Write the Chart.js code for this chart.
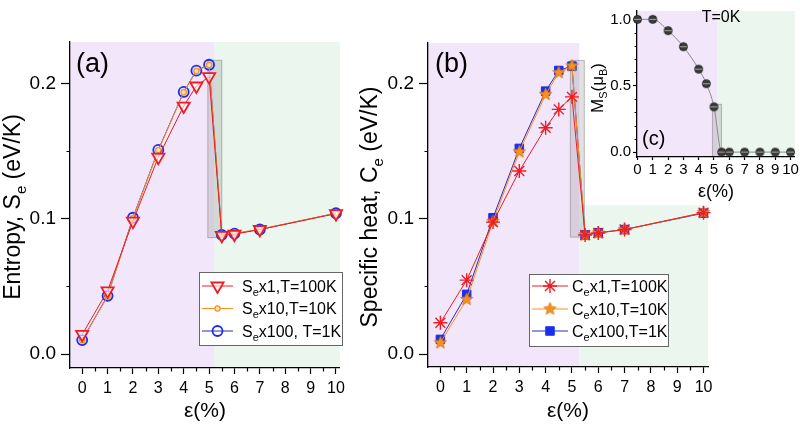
<!DOCTYPE html>
<html>
<head>
<meta charset="utf-8">
<script src="https://cdn.jsdelivr.net/npm/chart.js@4.4.1/dist/chart.umd.min.js"></script>
<style>
	html, body { margin: 0; padding: 0; background: #fff; }
	#wrap { position: relative; width: 800px; height: 428px; overflow: hidden; }
	canvas { position: absolute; top: 0; }
</style>
</head>
<body>
<div id="wrap">
	<canvas id="panelA" width="350" height="428" style="left:0"></canvas>
	<canvas id="panelB" width="450" height="428" style="left:350px"></canvas>
	<canvas id="panelC" width="260" height="205" style="left:540px"></canvas>
</div>
<script>
( function () {
	'use strict';

	// strain values (%) shared by panels (a) and (b)
	var strain = [ 0, 1, 2, 3, 4, 4.5, 5, 5.5, 6, 7, 10 ];

	// (a) entropy, eV/K (scaled)
	var entropy100K = [ 0.0145, 0.0467, 0.0982, 0.1454, 0.1832, 0.1980, 0.2049, 0.0877, 0.0885, 0.0920, 0.1037 ];
	var entropy10K = [ 0.0102, 0.0425, 0.1003, 0.1505, 0.1934, 0.2091, 0.2135, 0.0882, 0.0892, 0.0922, 0.1040 ];
	var entropy1K = [ 0.0103, 0.0430, 0.1007, 0.1508, 0.1936, 0.2093, 0.2137, 0.0880, 0.0890, 0.0920, 0.1040 ];

	// (b) specific heat, eV/K (scaled)
	var heat100K = [ 0.0231, 0.0546, 0.0975, 0.1353, 0.1673, 0.1808, 0.1901, 0.0880, 0.0895, 0.0920, 0.1045 ];
	var heat10K = [ 0.0083, 0.0404, 0.0980, 0.1495, 0.1919, 0.2080, 0.2130, 0.0880, 0.0895, 0.0920, 0.1045 ];
	var heat1K = [ 0.0108, 0.0441, 0.1007, 0.1520, 0.1943, 0.2096, 0.2128, 0.0880, 0.0897, 0.0920, 0.1041 ];

	// (c) magnetic moment at T=0K
	var strainMag = [ 0, 1, 2, 3, 4, 4.5, 5, 5.5, 6, 7, 8, 9, 10 ];
	var moment0K = [ 1.0, 1.0, 0.915, 0.794, 0.625, 0.515, 0.341, 0, 0, 0, 0, 0, 0 ];

	// ticks
	var strainTicks = [ 0, 1, 2, 3, 4, 5, 6, 7, 8, 9, 10 ];
	var strainMinor = [ 0.5, 1.5, 2.5, 3.5, 4.5, 5.5, 6.5, 7.5, 8.5, 9.5 ];
	var valueTicks = [ 0, 0.1, 0.2 ];
	var valueMinor = [ 0.05, 0.15 ];
	var momentTicks = [ 0, 0.5, 1.0 ];
	var momentMinor = [ 0.1, 0.2, 0.3, 0.4, 0.6, 0.7, 0.8, 0.9 ];

	// phase boundary (strain %) and transition box [x0, x1, y0, y1]
	var edgeA = 5.2, edgeB = 5.28, edgeC = 5.23;
	var greenTopB = 0.11;
	var boxA = [ 4.95, 5.5, 0.086, 0.217 ];
	var boxB = [ 4.94, 5.47, 0.0864, 0.217 ];
	var boxC = [ 4.9, 5.49, -0.05, 0.36 ];

	var FONT = "'Liberation Sans', Arial, sans-serif";
	var RED = '#ee1c24';
	var ORANGE = '#f7921e';
	var BLUE = '#1a2cf0';
	var BLUE_LINE = '#2b2bb8';
	var PURPLE = '#f2e6fa';
	var GREEN = '#eaf6ee';

	function pts( xs, ys ) {
		return xs.map( function ( x, i ) {
			return { x: x, y: ys[ i ] };
		} );
	}

	function starMarker( color, r ) {
		var c = document.createElement( 'canvas' );
		var s = Math.ceil( r * 2 + 2 );
		c.width = c.height = s;
		var g = c.getContext( '2d' );
		g.translate( s / 2, s / 2 );
		g.beginPath();
		for ( var i = 0; i < 10; i++ ) {
			var rr = i % 2 ? r * 0.45 : r;
			var a = -Math.PI / 2 + i * Math.PI / 5;
			g.lineTo( Math.cos( a ) * rr, Math.sin( a ) * rr );
		}
		g.closePath();
		g.fillStyle = color;
		g.fill();
		g.strokeStyle = '#d9730c';
		g.lineWidth = 0.8;
		g.stroke();
		return c;
	}

	function dotMarker() {
		var c = document.createElement( 'canvas' );
		c.width = c.height = 11;
		var g = c.getContext( '2d' );
		g.beginPath();
		g.arc( 5.5, 5.5, 4, 0, Math.PI * 2 );
		g.fillStyle = '#3c3c3c';
		g.fill();
		g.strokeStyle = '#111';
		g.lineWidth = 0.8;
		g.stroke();
		g.beginPath();
		g.moveTo( 1.8, 5.5 );
		g.lineTo( 9.2, 5.5 );
		g.strokeStyle = '#a0a0a0';
		g.lineWidth = 1;
		g.stroke();
		return c;
	}

	function drawRich( ctx, parts, x, y, size, center ) {
		var sub = Math.round( size * 0.66 );
		var widths = parts.map( function ( p ) {
			ctx.font = ( p[ 1 ] ? sub : size ) + 'px ' + FONT;
			return ctx.measureText( p[ 0 ] ).width;
		} );
		var total = widths.reduce( function ( a, b ) { return a + b; }, 0 );
		var cx = center ? x - total / 2 : x;
		ctx.textAlign = 'left';
		ctx.textBaseline = 'alphabetic';
		ctx.fillStyle = '#000';
		parts.forEach( function ( p, i ) {
			ctx.font = ( p[ 1 ] ? sub : size ) + 'px ' + FONT;
			ctx.fillText( p[ 0 ], cx, y + ( p[ 1 ] ? size * 0.24 : 0 ) );
			cx += widths[ i ];
		} );
	}

	// config is kept in the closure, not in chart options
	function makeDecor( o ) {
		return {
			id: 'decor',
			beforeDraw: function ( chart ) {
				var ctx = chart.ctx, a = chart.chartArea;
				var xs = chart.scales.x, ys = chart.scales.y;
				ctx.save();
				ctx.beginPath();
				ctx.rect( a.left, a.top, a.right - a.left, a.bottom - a.top );
				ctx.clip();
				o.bands.forEach( function ( b ) {
					var x0 = xs.getPixelForValue( b.from );
					var x1 = xs.getPixelForValue( b.to );
					var yt = typeof b.top === 'number' ? ys.getPixelForValue( b.top ) : a.top;
					ctx.fillStyle = b.color;
					ctx.fillRect( x0, yt, x1 - x0, a.bottom - yt );
				} );
				var bx0 = xs.getPixelForValue( o.box[ 0 ] ), bx1 = xs.getPixelForValue( o.box[ 1 ] );
				var by0 = ys.getPixelForValue( o.box[ 2 ] ), by1 = ys.getPixelForValue( o.box[ 3 ] );
				ctx.fillStyle = 'rgba(120,120,120,0.22)';
				ctx.fillRect( bx0, by1, bx1 - bx0, by0 - by1 );
				ctx.strokeStyle = 'rgba(110,110,110,0.45)';
				ctx.lineWidth = 1;
				ctx.strokeRect( bx0, by1, bx1 - bx0, by0 - by1 );
				ctx.restore();
			},
			afterDraw: function ( chart ) {
				var ctx = chart.ctx, a = chart.chartArea;
				var xs = chart.scales.x, ys = chart.scales.y;
				ctx.save();
				ctx.strokeStyle = '#000';
				ctx.lineWidth = 1.2;
				ctx.beginPath();
				( o.minorX || [] ).forEach( function ( v ) {
					var px = Math.round( xs.getPixelForValue( v ) ) + 0.5;
					ctx.moveTo( px, a.bottom );
					ctx.lineTo( px, a.bottom + o.minorLen );
				} );
				( o.minorY || [] ).forEach( function ( v ) {
					var py = Math.round( ys.getPixelForValue( v ) ) + 0.5;
					ctx.moveTo( a.left - o.minorLen, py );
					ctx.lineTo( a.left, py );
				} );
				ctx.stroke();

				ctx.save();
				ctx.translate( o.yTitle.x, o.yTitle.y );
				ctx.rotate( -Math.PI / 2 );
				drawRich( ctx, o.yTitle.parts, 0, 0, o.yTitle.size, true );
				ctx.restore();

				o.notes.forEach( function ( n ) {
					ctx.font = n.size + 'px ' + FONT;
					ctx.fillStyle = '#000';
					ctx.textAlign = n.align;
					ctx.textBaseline = 'middle';
					ctx.fillText( n.text, n.x, n.y );
				} );

				var lg = o.legend;
				if ( lg ) {
					ctx.fillStyle = '#fff';
					ctx.fillRect( lg.x, lg.y, lg.w, lg.h );
					ctx.strokeStyle = '#666';
					ctx.lineWidth = 1;
					ctx.strokeRect( lg.x + 0.5, lg.y + 0.5, lg.w, lg.h );
					lg.rows.forEach( function ( parts, i ) {
						var ds = chart.data.datasets[ i ];
						var ry = lg.rowY[ i ];
						ctx.strokeStyle = ds.borderColor;
						ctx.lineWidth = 1;
						ctx.beginPath();
						ctx.moveTo( lg.line[ 0 ], ry );
						ctx.lineTo( lg.line[ 1 ], ry );
						ctx.stroke();
						ctx.fillStyle = ds.pointBackgroundColor;
						ctx.strokeStyle = ds.pointBorderColor;
						ctx.lineWidth = ds.pointBorderWidth;
						Chart.helpers.drawPoint( ctx, {
							pointStyle: ds.pointStyle,
							radius: ds.pointRadius,
							rotation: ds.pointRotation || 0,
							borderWidth: ds.pointBorderWidth
						}, ( lg.line[ 0 ] + lg.line[ 1 ] ) / 2, ry );
						drawRich( ctx, parts, lg.textX, ry + lg.size * 0.36, lg.size, false );
					} );
				}
				ctx.restore();
			}
		};
	}

	function scale( o ) {
		return {
			type: 'linear',
			min: o.min,
			max: o.max,
			afterBuildTicks: function ( s ) {
				s.ticks = o.ticks.map( function ( v ) { return { value: v }; } );
			},
			afterFit: function ( s ) {
				if ( s.isHorizontal() ) {
					s.height = o.size;
				} else {
					s.width = o.size;
				}
			},
			border: { display: true, color: '#000', width: 1.3 },
			grid: {
				drawOnChartArea: false,
				drawTicks: true,
				tickLength: o.tickLength,
				tickColor: '#000',
				tickWidth: 1.2
			},
			ticks: {
				color: '#000',
				font: { family: FONT, size: o.fontSize },
				padding: o.padding,
				autoSkip: false,
				maxRotation: 0,
				callback: o.format
			},
			title: o.title ? {
				display: true,
				text: o.title,
				color: '#000',
				font: { family: FONT, size: o.titleSize },
				padding: { top: 0, bottom: o.titlePad }
			} : { display: false }
		};
	}

	function fixed1( v ) { return v.toFixed( 1 ); }
	function plain( v ) { return String( v ); }

	function build( id, datasets, layout, scales, decorOpts ) {
		return new Chart( document.getElementById( id ), {
			type: 'line',
			data: { datasets: datasets },
			options: {
				responsive: false,
				maintainAspectRatio: false,
				animation: false,
				devicePixelRatio: 1,
				events: [],
				layout: { padding: layout },
				plugins: {
					legend: { display: false },
					tooltip: { enabled: false }
				},
				scales: scales
			},
			plugins: [ makeDecor( decorOpts ) ]
		} );
	}

	// ---- panel (a)
	build( 'panelA', [
		{
			data: pts( strain, entropy100K ), borderColor: RED, borderWidth: 1, clip: false,
			pointStyle: 'triangle', pointRotation: 180, pointRadius: 7,
			pointBorderWidth: 1.8, pointBorderColor: RED, pointBackgroundColor: 'rgba(255,255,255,0.6)'
		},
		{
			data: pts( strain, entropy10K ), borderColor: ORANGE, borderWidth: 1, clip: false,
			pointStyle: 'circle', pointRadius: 2.6,
			pointBorderWidth: 1.3, pointBorderColor: ORANGE, pointBackgroundColor: '#fde6c6'
		},
		{
			data: pts( strain, entropy1K ), borderColor: BLUE_LINE, borderWidth: 1, clip: false,
			pointStyle: 'circle', pointRadius: 5,
			pointBorderWidth: 1.8, pointBorderColor: BLUE, pointBackgroundColor: 'rgba(0,0,0,0)'
		}
	], { top: 42, right: 1, left: 0, bottom: 0 }, {
		x: scale( { min: -0.48, max: 10.15, ticks: strainTicks, size: 60, tickLength: 6, padding: 5, fontSize: 16, format: plain, title: 'ε(%)', titleSize: 21, titlePad: 4 } ),
		y: scale( { min: -0.0103, max: 0.2305, ticks: valueTicks, size: 70, tickLength: 9, padding: 5, fontSize: 19, format: fixed1 } )
	}, {
		bands: [ { from: -1, to: edgeA, color: PURPLE }, { from: edgeA, to: 11, color: GREEN } ],
		box: boxA,
		minorX: strainMinor, minorY: valueMinor, minorLen: 3.5,
		yTitle: { x: 20, y: 207, size: 23, parts: [ [ 'Entropy, S', 0 ], [ 'e', 1 ], [ ' (eV/K)', 0 ] ] },
		notes: [ { text: '(a)', x: 76, y: 65, size: 27, align: 'left' } ],
		legend: {
			x: 199, y: 272, w: 143, h: 73, rowY: [ 286, 308.5, 331 ], line: [ 202, 233 ], textX: 242, size: 16,
			rows: [
				[ [ 'S', 0 ], [ 'e', 1 ], [ 'x1,T=100K', 0 ] ],
				[ [ 'S', 0 ], [ 'e', 1 ], [ 'x10,T=10K', 0 ] ],
				[ [ 'S', 0 ], [ 'e', 1 ], [ 'x100, T=1K', 0 ] ]
			]
		}
	} );

	// ---- panel (b)
	build( 'panelB', [
		{
			data: pts( strain, heat100K ), borderColor: RED, borderWidth: 1, clip: false,
			pointStyle: 'star', pointRadius: 7,
			pointBorderWidth: 1.4, pointBorderColor: RED, pointBackgroundColor: RED
		},
		{
			data: pts( strain, heat10K ), borderColor: ORANGE, borderWidth: 1, clip: false,
			pointStyle: starMarker( ORANGE, 6.5 ), pointRadius: 6,
			pointBorderWidth: 0, pointBorderColor: ORANGE, pointBackgroundColor: ORANGE
		},
		{
			data: pts( strain, heat1K ), borderColor: BLUE_LINE, borderWidth: 1, clip: false,
			pointStyle: 'rect', pointRadius: 6,
			pointBorderWidth: 1, pointBorderColor: BLUE, pointBackgroundColor: BLUE
		}
	], { top: 43, right: 92, left: 0, bottom: 0 }, {
		x: scale( { min: -0.47, max: 10.17, ticks: strainTicks, size: 61, tickLength: 6, padding: 5, fontSize: 16, format: plain, title: 'ε(%)', titleSize: 21, titlePad: 4 } ),
		y: scale( { min: -0.0096, max: 0.2299, ticks: valueTicks, size: 78, tickLength: 9, padding: 5, fontSize: 19, format: fixed1 } )
	}, {
		bands: [ { from: -1, to: edgeB, color: PURPLE }, { from: edgeB, to: 11, top: greenTopB, color: GREEN } ],
		box: boxB,
		minorX: strainMinor, minorY: valueMinor, minorLen: 3.5,
		yTitle: { x: 27, y: 207, size: 23, parts: [ [ 'Specific heat, C', 0 ], [ 'e', 1 ], [ ' (eV/K)', 0 ] ] },
		notes: [ { text: '(b)', x: 85, y: 65, size: 27, align: 'left' } ],
		legend: {
			x: 179, y: 274, w: 139, h: 72, rowY: [ 286, 309, 331 ], line: [ 182, 218 ], textX: 222, size: 16,
			rows: [
				[ [ 'C', 0 ], [ 'e', 1 ], [ 'x1,T=100K', 0 ] ],
				[ [ 'C', 0 ], [ 'e', 1 ], [ 'x10,T=10K', 0 ] ],
				[ [ 'C', 0 ], [ 'e', 1 ], [ 'x100,T=1K', 0 ] ]
			]
		}
	} );

	// ---- inset (c)
	build( 'panelC', [
		{
			data: pts( strainMag, moment0K ), borderColor: '#8a8a8a', borderWidth: 1, clip: false,
			cubicInterpolationMode: 'monotone',
			pointStyle: dotMarker(), pointRadius: 4,
			pointBorderWidth: 0, pointBorderColor: '#333', pointBackgroundColor: '#333'
		}
	], { top: 7, right: 5, left: 0, bottom: 0 }, {
		x: scale( { min: -0.03, max: 10.28, ticks: strainTicks, size: 48, tickLength: 3, padding: 1, fontSize: 15, format: plain, title: 'ε(%)', titleSize: 18, titlePad: 2 } ),
		y: scale( { min: -0.037, max: 1.063, ticks: momentTicks, size: 97, tickLength: 4, padding: 2, fontSize: 15, format: fixed1 } )
	}, {
		bands: [ { from: -1, to: edgeC, color: PURPLE }, { from: edgeC, to: 11, color: GREEN } ],
		box: boxC,
		minorY: momentMinor, minorLen: 2.5,
		yTitle: { x: 63, y: 88, size: 17, parts: [ [ 'M', 0 ], [ 'S', 1 ], [ '(μ', 0 ], [ 'B', 1 ], [ ')', 0 ] ] },
		notes: [
			{ text: 'T=0K', x: 181, y: 18, size: 16, align: 'center' },
			{ text: '(c)', x: 102, y: 139, size: 20, align: 'left' }
		]
	} );
} )();
</script>
</body>
</html>
